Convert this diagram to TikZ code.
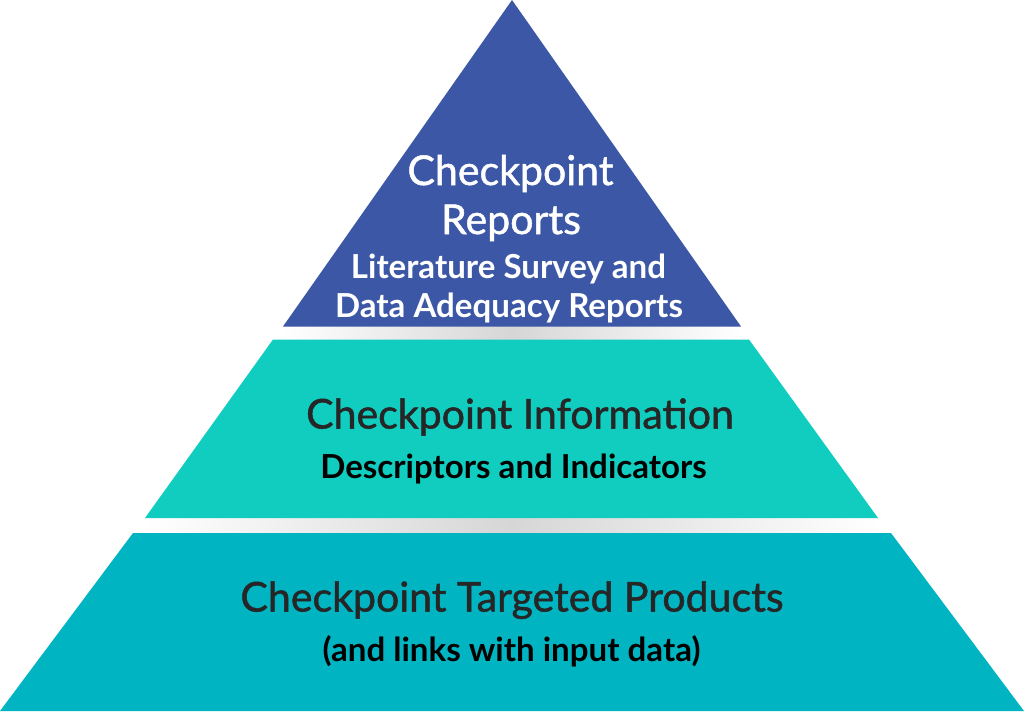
\documentclass[tikz,border=0pt]{standalone}
\usepackage{fontspec}
\setmainfont{Lato}
\newfontfamily\titlefont[FakeBold=1.2]{Lato}
\definecolor{topblue}{HTML}{3B57A6}
\definecolor{midteal}{HTML}{10CDC0}
\definecolor{botteal}{HTML}{00B4C2}
\definecolor{darktext}{HTML}{262626}
\tikzset{
  layer/.style={draw=none},
  gapshadow/.style={left color=white, right color=white, middle color=black!16, draw=none},
  titletext/.style={font=\titlefont\fontsize{30.8pt}{34pt}\selectfont, anchor=base, inner sep=0pt},
  subtext/.style={font=\bfseries\fontsize{24.8pt}{28pt}\selectfont, anchor=base, inner sep=0pt},
}
\begin{document}
\begin{tikzpicture}[x=0.75pt,y=-0.75pt]
\useasboundingbox (0,0) rectangle (1024,711);
% shadows
\shade[gapshadow] (283,326) rectangle (741,339);
\shade[gapshadow] (145,518) rectangle (878,533);
% layers
\fill[layer,topblue] (512,0) -- (741,326.5) -- (283,326.5) -- cycle;
\fill[layer,midteal] (273,339.5) -- (749,339.5) -- (878,518) -- (145,518) -- cycle;
\fill[layer,botteal] (133,533) -- (891,533) -- (1024,711) -- (0,711) -- cycle;
% texts
\node[titletext,white] (t1) at (510.5,185) {Checkpoint};
\node[titletext,white] (t2) at (511,234) {Reports};
\node[subtext,white] (s1) at (508.5,278.5) {Literature Survey and};
\node[subtext,white] (s2) at (509,317) {Data Adequacy Reports};
\node[titletext,darktext] (m1) at (520,428.5) {Checkpoint Information};
\node[subtext,black] (m2) at (513.5,478) {Descriptors and Indicators};
\node[titletext,darktext] (b1) at (512,611.5) {Checkpoint Targeted Products};
\node[subtext,black] (b2) at (511.5,661) {(and links with input data)};
\end{tikzpicture}
\end{document}
